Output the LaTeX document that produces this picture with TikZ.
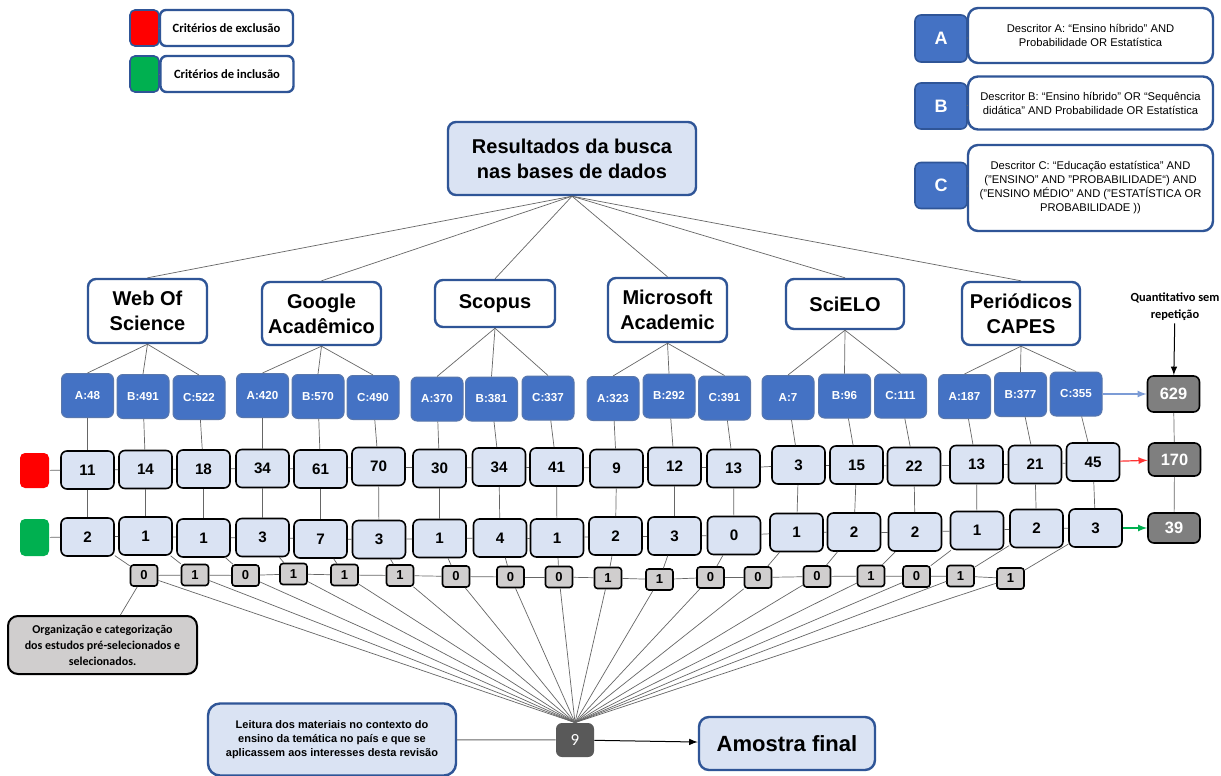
\documentclass[tikz,border=0pt]{standalone}
\usepackage{fontspec}
\setmainfont{Liberation Sans}
\newfontfamily\calibri{Carlito}
\usetikzlibrary{arrows}

\definecolor{azul}{HTML}{4472C4}
\definecolor{azulborda}{HTML}{2F5597}
\definecolor{azulclaro}{HTML}{DAE3F3}
\definecolor{cinza}{HTML}{D0CECE}
\definecolor{cinzaesc}{HTML}{7F7F7F}
\definecolor{cinzanove}{HTML}{595959}
\definecolor{verde}{HTML}{00B050}

\tikzset{
  base/.style={draw=azulborda,line width=1.2pt,fill=white,rounded corners=4pt,
    align=center,inner sep=0pt,font=\bfseries\fontsize{10}{12.5}\selectfont},
  sub/.style={fill=azul,draw=azulborda!80,line width=0.5pt,rounded corners=3pt,
    minimum width=26pt,minimum height=22pt,inner sep=0pt,text=white,
    font=\bfseries\fontsize{5.8}{6}\selectfont},
  num/.style={fill=azulclaro,draw=black,line width=0.8pt,rounded corners=3pt,
    minimum width=26.5pt,minimum height=19pt,inner sep=0pt,
    font=\bfseries\fontsize{7.6}{8}\selectfont},
  mini/.style={fill=cinza,draw=black,line width=0.8pt,rounded corners=1.5pt,
    minimum width=13.5pt,minimum height=10.5pt,inner sep=0pt,
    font=\bfseries\fontsize{6.5}{7}\selectfont},
  res/.style={fill=cinzaesc,draw=black,line width=0.8pt,rounded corners=3pt,
    minimum width=26pt,inner sep=0pt,text=white,
    font=\bfseries\fontsize{8.2}{9}\selectfont},
  letra/.style={fill=azul,draw=azulborda,line width=0.8pt,rounded corners=3pt,
    minimum width=26pt,minimum height=23pt,inner sep=0pt,text=white,
    font=\bfseries\fontsize{9}{10}\selectfont},
  descr/.style={draw=azulborda,line width=1.2pt,fill=white,rounded corners=5pt,
    minimum width=122.5pt,inner sep=0pt,align=center,
    font=\fontsize{5.6}{7}\selectfont},
  legenda/.style={draw=azulborda,line width=1.2pt,fill=white,rounded corners=3pt,
    minimum width=66.5pt,minimum height=18pt,inner sep=0pt,
    font=\calibri\bfseries\fontsize{6.3}{7}\selectfont},
  quad/.style={draw=azulborda,line width=0.8pt,rounded corners=2.5pt,
    minimum width=14.5pt,minimum height=18pt,inner sep=0pt},
  liga/.style={black!60,line width=0.35pt}
}

\begin{document}
\begin{tikzpicture}[x=0.5pt,y=-0.5pt,>=latex]
  \useasboundingbox (0,0) rectangle (1221,776);
  \fill[white] (0,0) rectangle (1221,776);

  % legenda
  \node[quad,fill=red] (ex) at (144.5,28) {};
  \node[legenda] (exl) at (226.5,28) {Critérios de exclusão};
  \node[quad,fill=verde] (in) at (144.5,74) {};
  \node[legenda] (inl) at (227,74) {Critérios de inclusão};

  % descritores
  \node[letra,minimum height=23.5pt] (dA) at (941,38.5) {A};
  \node[descr,minimum height=27.5pt] (tA) at (1090.5,35.5)
    {Descritor A: “Ensino híbrido” AND\\Probabilidade OR Estatística};
  \node[letra] (dB) at (941,106) {B};
  \node[descr,minimum height=26.5pt] (tB) at (1090.5,103)
    {Descritor B: “Ensino híbrido” OR “Sequência\\didática” AND Probabilidade OR Estatística};
  \node[letra] (dC) at (941,185.5) {C};
  \node[descr,minimum height=43pt] (tC) at (1090.5,188)
    {Descritor C: “Educação estatística" AND\\("ENSINO" AND "PROBABILIDADE“) AND\\("ENSINO MÉDIO" AND ("ESTATÍSTICA OR\\PROBABILIDADE ))};

  % resultados e bases
  \node[base,fill=azulclaro,minimum width=124pt,minimum height=36.5pt] (raiz) at (572,158.5)
    {Resultados da busca\\nas bases de dados};
  \node[base,minimum width=59.5pt,minimum height=32pt] (db1) at (147.5,311) {Web Of\\Science};
  \node[base,minimum width=59.5pt,minimum height=31.5pt] (db2) at (321.5,313.5) {Google\\Acadêmico};
  \node[base,minimum width=60pt,minimum height=23.5pt] (db3) at (495,303.5) {Scopus};
  \node[base,minimum width=59.5pt,minimum height=32pt] (db4) at (667.5,310) {Microsoft\\Academic};
  \node[base,minimum width=59pt,minimum height=25pt] (db5) at (845,304) {SciELO};
  \node[base,minimum width=59pt,minimum height=31.5pt] (db6) at (1021,313.5) {Periódicos\\CAPES};

  \foreach \k in {1,...,6}
    \draw[liga] (raiz.south) -- (db\k.north);

  % descritores por base
  \foreach \lab/\x/\y [count=\i] in {A:48/87.5/395.5, B:491/143/396.5, C:522/199/397.5,
      A:420/262.5/395.5, B:570/318/396.5, C:490/373/397.5,
      A:370/437/399, B:381/491.5/399, C:337/548/398,
      A:323/613/398.5, B:292/669/396, C:391/724.5/398,
      A:7/788/397.5, B:96/844.5/396, C:111/900.5/396,
      A:187/964.5/396.5, B:377/1020.5/394.5, C:355/1076/394}
    \node[sub] (b\i) at (\x,\y) {\lab};

  \foreach \k in {1,...,6}
    \foreach \j in {1,2,3} {
      \pgfmathtruncatemacro\i{3*\k-3+\j}
      \draw[liga] (db\k.south) -- (b\i.north);
    }

  % exclusao
  \node[quad,draw=none,fill=red,minimum height=17.5pt] (exq) at (34.5,470.5) {};
  \foreach \v/\x/\y [count=\i] in {11/87.5/470, 14/145.5/469.5, 18/203.5/469,
      34/262.5/468.5, 61/320.5/469, 70/378.5/466.5, 30/439.5/468.5, 34/499/467,
      41/556.5/467, 9/616.5/468.5, 12/674.5/466.5, 13/733.5/468.5, 3/798.5/465,
      15/856.5/465, 22/914/466.5, 13/976.5/464.5, 21/1035/464.5, 45/1093/462}
    \node[num] (r\i) at (\x,\y) {\v};

  % inclusao
  \node[quad,draw=none,fill=verde,minimum height=18.5pt] (inq) at (34.5,537.5) {};
  \foreach \v/\x/\y [count=\i] in {2/87.5/537, 1/145.5/536, 1/203.5/538,
      3/262.5/537.5, 7/320.5/539, 3/379/539.5, 1/439.5/538.5, 4/500/538,
      1/557/538, 2/615.5/536, 3/674.5/536, 0/734/535.5, 1/796.5/532.5,
      2/854/532, 2/915/532, 1/977/530.5, 2/1036.5/528.5, 3/1095.5/528}
    \node[num] (g\i) at (\x,\y) {\v};

  % selecionados
  \foreach \v/\x/\y [count=\i] in {0/144/575.5, 1/195/575, 0/245.5/575.5,
      1/293.5/574, 1/344.5/575, 1/400/575.5, 0/456/576.5, 0/510.5/577,
      0/559/577, 1/608/578, 1/659.5/579.5, 0/710.5/577.5, 0/758/577.5,
      0/817/576.5, 1/871/576, 0/916.5/576.5, 1/960.5/576, 1/1010.5/578.5}
    \node[mini] (s\i) at (\x,\y) {\v};

  % totais
  \node[res,minimum height=18pt] (q1) at (1173.5,394) {629};
  \node[res,minimum height=16.5pt] (q2) at (1174.5,459.5) {170};
  \node[res,minimum height=15pt] (q3) at (1174,528) {39};
  \node[font=\calibri\bfseries\fontsize{6.2}{8.5}\selectfont,align=center,inner sep=1pt]
    (qt) at (1175,307) {Quantitativo sem\\repetição};

  % finais
  \node[fill=cinzanove,rounded corners=3pt,minimum width=19pt,minimum height=17pt,
    inner sep=0pt,text=white,font=\calibri\fontsize{8.5}{9}\selectfont] (nove) at (575,740) {9};
  \node[fill=cinza,draw=black,line width=1pt,rounded corners=5pt,minimum width=94.5pt,
    minimum height=29pt,inner sep=0pt,align=center,
    font=\calibri\bfseries\fontsize{6}{8}\selectfont] (org) at (102.5,645)
    {Organização e categorização\\dos estudos pré-selecionados e\\selecionados.};
  \node[base,fill=azulclaro,rounded corners=6pt,minimum width=124pt,minimum height=36pt,
    font=\bfseries\fontsize{5.5}{6.9}\selectfont] (leit) at (332,739.5)
    {Leitura dos materiais no contexto do\\ensino da temática no país e que se\\aplicassem aos interesses desta revisão};
  \node[base,fill=azulclaro,rounded corners=5pt,minimum width=88pt,minimum height=26.5pt,
    font=\bfseries\fontsize{11}{12}\selectfont] (amo) at (787,743.5) {Amostra final};

  % ligacoes
  \draw[liga] (ex) -- (exl);
  \draw[liga] (in) -- (inl);
  \draw[liga] (dA) -- (tA);
  \draw[liga] (dB) -- (tB);
  \draw[liga] (dC) -- (tC);
  \draw[liga] (exq) -- (r1);
  \draw[liga] (inq) -- (g1);
  \foreach \i [count=\nx from 2] in {1,...,17} {
    \draw[liga] (r\i) -- (r\nx);
    \draw[liga] (g\i) -- (g\nx);
    \draw[liga] (s\i) -- (s\nx);
  }
  \foreach \i in {1,...,18} {
    \draw[liga] (b\i) -- (r\i);
    \draw[liga] (r\i) -- (g\i);
    \draw[liga] (g\i) -- (s\i);
    \draw[liga] (s\i) -- (nove.north);
  }
  \draw[liga] (org) -- (s1);
  \draw[liga] (q1) -- (q2);
  \draw[liga] (q2) -- (q3);
  \draw[->,black,line width=0.5pt] (qt) -- (q1);
  \draw[->,azul!70,line width=0.6pt] (b18) -- (q1);
  \draw[->,red!80,line width=0.6pt] (r18) -- (q2);
  \draw[->,verde,line width=0.6pt] (g18) -- (q3);
  \draw[liga,line width=0.5pt] (leit) -- (nove);
  \draw[->,black,line width=0.5pt] (nove) -- (amo);
\end{tikzpicture}
\end{document}
